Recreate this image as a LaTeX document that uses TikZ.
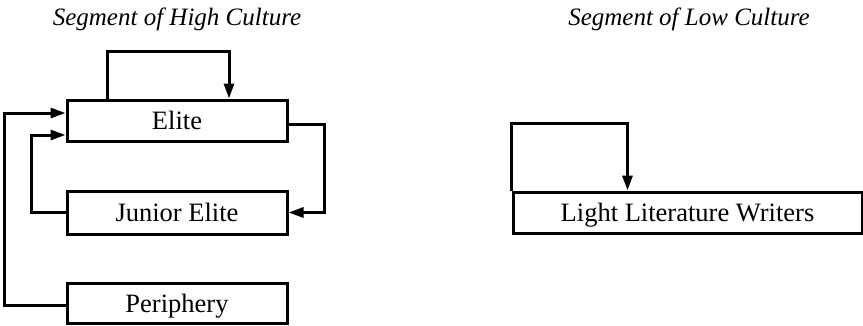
\documentclass[tikz,border=0pt]{standalone}
\usepackage{fontspec}
\setmainfont{Liberation Serif}
\usetikzlibrary{arrows.meta}

\tikzset{
  box/.style={draw, line width=3pt, inner sep=0pt, minimum width=220pt,
    text height=18pt, text depth=0pt,
    font=\fontsize{26.5}{30}\selectfont},
  flow/.style={line width=3pt, -{Triangle[length=15pt,width=10pt]}},
  heading/.style={anchor=base, inner sep=0pt,
    font=\fontsize{25}{30}\selectfont\itshape}
}

\begin{document}
\begin{tikzpicture}[x=1pt,y=-1pt]
  \useasboundingbox (0,0) rectangle (863,325);

  % section headings
  \node[heading] (hhigh) at (177,25) {Segment of High Culture};
  \node[heading] (hlow)  at (689,25) {Segment of Low Culture};

  % high culture segment
  \node[box, minimum height=41pt] (elite)  at (177,120.5) {Elite};
  \node[box, minimum height=43pt] (junior) at (177,212.5) {Junior Elite};
  \node[box, minimum height=40pt] (periph) at (177,303)   {Periphery};

  % low culture segment
  \node[box, minimum width=349pt, minimum height=41pt] (llw) at (687.5,212.5)
    {Light Literature Writers};

  % elite feeds back into itself
  \draw[flow] ([xshift=-70pt]elite.north) |- ([xshift=52pt,yshift=47pt]elite.north)
    -- ([xshift=52pt]elite.north);
  % elite to junior elite
  \draw[flow] ([yshift=-3.5pt]elite.east) -- ++(36,0) |- (junior.east);
  % junior elite back to elite
  \draw[flow] (junior.west) -- ++(-34,0) |- ([yshift=-14.5pt]elite.west);
  % periphery to elite
  \draw[flow] ([yshift=-2pt]periph.west) -- ++(-61,0) |- ([yshift=7.5pt]elite.west);

  % light literature writers feed back into themselves
  \draw[flow] (llw.north west) |- ([xshift=116pt,yshift=67pt]llw.north west)
    -- ([xshift=116pt]llw.north west);
\end{tikzpicture}
\end{document}
